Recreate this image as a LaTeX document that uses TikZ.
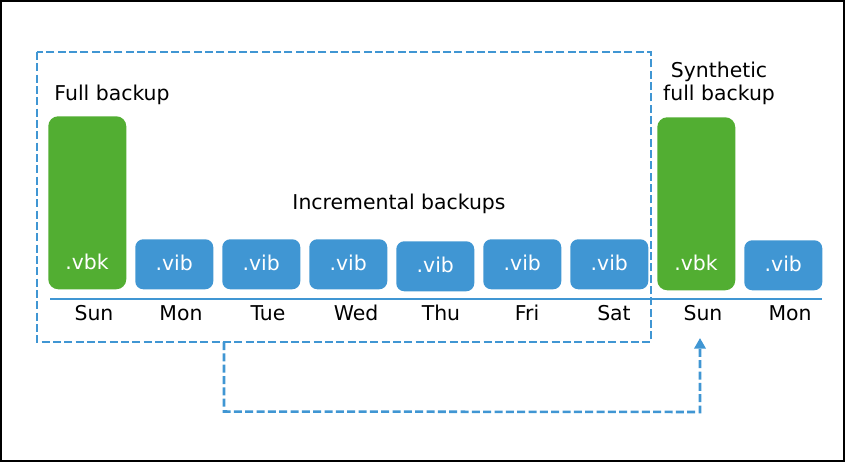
\documentclass[tikz,border=0pt]{standalone}
\usepackage{fontspec}
\setmainfont{DejaVu Sans}
\usetikzlibrary{arrows.meta}
\definecolor{vgreen}{HTML}{52AE32}
\definecolor{vblue}{HTML}{4096D3}
\begin{document}
\begin{tikzpicture}[x=0.75pt,y=-0.75pt,
  fullbox/.style={fill=vgreen,rounded corners=7.5pt,minimum width=58.5pt,minimum height=129.75pt,inner sep=0pt,anchor=north west},
  incbox/.style={fill=vblue,rounded corners=6pt,minimum width=58.5pt,minimum height=37.5pt,inner sep=0pt,anchor=north west},
  boxlbl/.style={text=white,font=\fontsize{15.3}{17.25}\selectfont},
  lbl/.style={font=\fontsize{15.3}{17.25}\selectfont,text=black},
  daylbl/.style={lbl,anchor=base},
  dashblue/.style={draw=vblue,line width=1.9pt,dash pattern=on 6pt off 2.5pt}]
\useasboundingbox (0,0) rectangle (845,462);
\draw[line width=1.4pt] (1,1) rectangle (844,461);
% dashed frame
\draw[dashblue] (37,52) rectangle (651,342);
% boxes
\node[fullbox] (b0) at (48,116) {};
\node[incbox] (b1) at (135,239) {};
\node[incbox] (b2) at (222,239) {};
\node[incbox] (b3) at (309,239) {};
\node[incbox] (b4) at (396,241) {};
\node[incbox] (b5) at (483,239) {};
\node[incbox] (b6) at (570,239) {};
\node[fullbox] (b7) at (657,117) {};
\node[incbox] (b8) at (744,240) {};
% box labels
\node[boxlbl] (t0) at (87,262) {.vbk};
\node[boxlbl] at ([yshift=0.75pt]b1.center) {.vib};
\node[boxlbl] at ([yshift=0.75pt]b2.center) {.vib};
\node[boxlbl] at ([yshift=0.75pt]b3.center) {.vib};
\node[boxlbl] at ([yshift=0.75pt]b4.center) {.vib};
\node[boxlbl] at ([yshift=0.75pt]b5.center) {.vib};
\node[boxlbl] at ([yshift=0.75pt]b6.center) {.vib};
\node[boxlbl] (t7) at (696,263) {.vbk};
\node[boxlbl] at ([yshift=0.75pt]b8.center) {.vib};
% baseline
\coordinate (l0) at (50,299);
\coordinate (l1) at (822,299);
\draw[vblue,line width=2pt] (l0) -- (l1);
% days
\node[daylbl] (d0) at (94,320) {Sun};
\node[daylbl] (d1) at (181,320) {Mon};
\node[daylbl] (d2) at (268,320) {Tue};
\node[daylbl] (d3) at (356,320) {Wed};
\node[daylbl] (d4) at (441,320) {Thu};
\node[daylbl] (d5) at (527,320) {Fri};
\node[daylbl] (d6) at (614,320) {Sat};
\node[daylbl] (d7) at (703,320) {Sun};
\node[daylbl] (d8) at (790,320) {Mon};
% titles
\node[lbl] (ft) at (112,94.5) {Full backup};
\node[lbl,align=center,inner sep=0pt] (st) at (719,83) {Synthetic\\full backup};
\node[lbl] (it) at (399,204) {Incremental backups};
% arrow
\coordinate (a0) at (224,342);
\coordinate (a1) at (224,411.5);
\coordinate (a2) at (700,412);
\coordinate (a3) at (700,338);
\draw[dashblue,-{Triangle[length=8pt,width=8.5pt]}] (a0) -- (a1) -- (a2) -- (a3);
\end{tikzpicture}
\end{document}
